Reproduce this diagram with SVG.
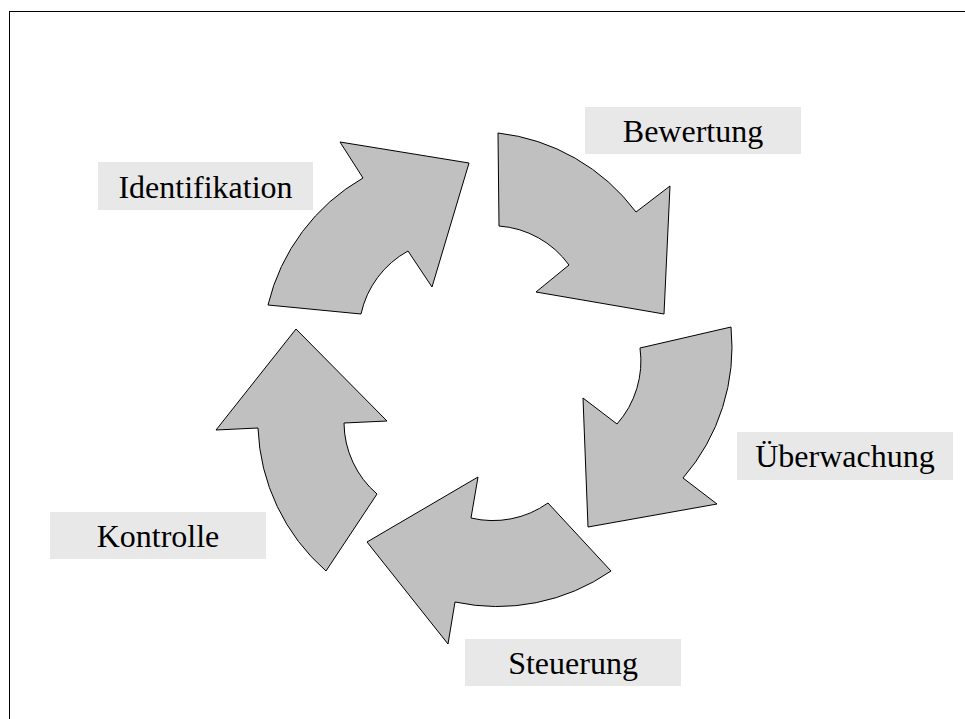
<svg xmlns="http://www.w3.org/2000/svg" width="965" height="719" viewBox="0 0 965 719">
<style>
.arrow{fill:#c0c0c0;stroke:#000;stroke-width:1;stroke-linejoin:miter}
.box{fill:#e8e8e8;stroke:none}
.lbl{font-family:"Liberation Serif","Times New Roman",serif;font-size:32px;fill:#000;text-anchor:middle}
</style>
<rect x="9.5" y="11.5" width="1000" height="800" fill="#fff" stroke="#000" stroke-width="1"/>
<g id="connectors">
<path id="arrow-identifikation" class="arrow" d="M268,305 A200,200 0 0 1 363,178 L340,142 L469,163 L432,287 L408,251 A95,95 0 0 0 361,314 Z"/>
<path id="arrow-bewertung" class="arrow" d="M498,133 A200,200 0 0 1 636,212 L670,186 L664,314 L536,292 L569,265 A95,95 0 0 0 499,226 Z"/>
<path id="arrow-ueberwachung" class="arrow" d="M731,327 A200,200 0 0 1 683,478 L717,504 L588,527 L583,398 L617,424 A95,95 0 0 0 640,348 Z"/>
<path id="arrow-steuerung" class="arrow" d="M611,571 A200,200 0 0 1 455,602 L448,644 L367,542 L478,477 L471,518 A95,95 0 0 0 548,503 Z"/>
<path id="arrow-kontrolle" class="arrow" d="M326,571 A200,200 0 0 1 258,428 L216,430 L296,329 L387,421 L344,423 A95,95 0 0 0 377,494 Z"/>
</g>
<g id="node-bewertung">
<rect class="box" x="585" y="107" width="216" height="47"/>
<text class="lbl" x="693" y="142">Bewertung</text>
</g>
<g id="node-identifikation">
<rect class="box" x="98" y="162" width="215" height="48"/>
<text class="lbl" x="205.5" y="198">Identifikation</text>
</g>
<g id="node-ueberwachung">
<rect class="box" x="737" y="432" width="216" height="48"/>
<text class="lbl" x="845" y="467">Überwachung</text>
</g>
<g id="node-kontrolle">
<rect class="box" x="50" y="512" width="216" height="47"/>
<text class="lbl" x="158" y="547">Kontrolle</text>
</g>
<g id="node-steuerung">
<rect class="box" x="465" y="639" width="216" height="47"/>
<text class="lbl" x="573" y="674">Steuerung</text>
</g>
</svg>
